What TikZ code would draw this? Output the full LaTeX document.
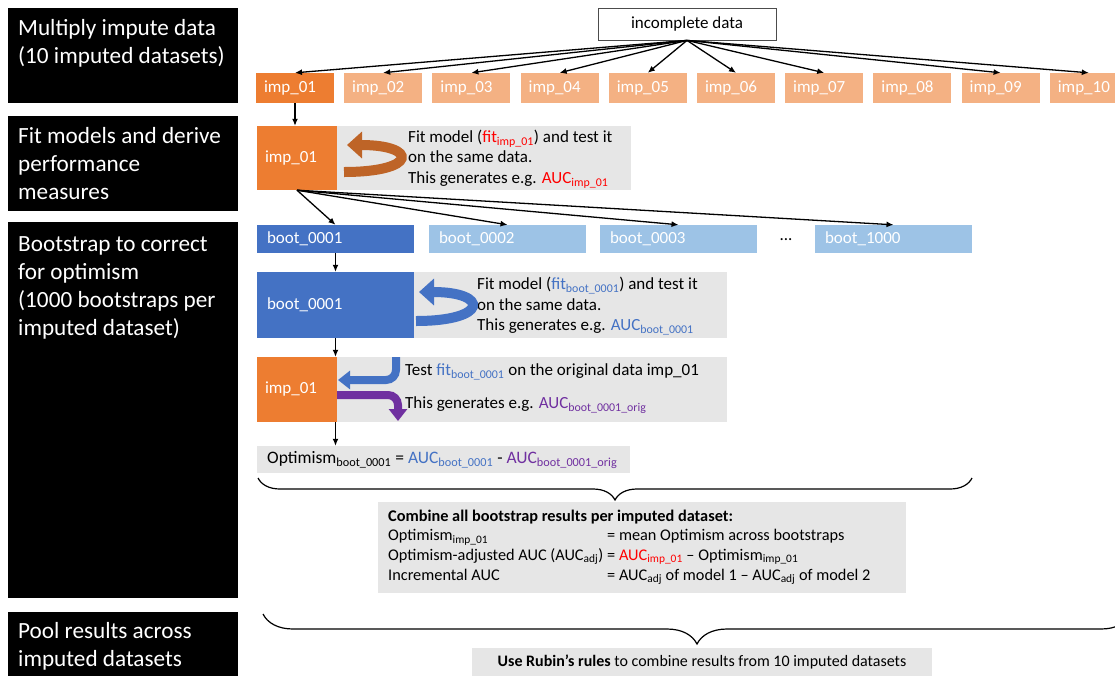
\documentclass[tikz,border=0pt]{standalone}
\usepackage{fontspec}
\setmainfont{Carlito}
\usetikzlibrary{positioning,arrows.meta,decorations.pathreplacing}
\definecolor{impdark}{HTML}{ED7D31}
\definecolor{implight}{HTML}{F4B183}
\definecolor{bootdark}{HTML}{4472C4}
\definecolor{bootlight}{HTML}{9DC3E6}
\definecolor{panel}{HTML}{E6E6E6}
\definecolor{fitred}{HTML}{FF0000}
\definecolor{origpurple}{HTML}{7030A0}
\newcommand\lowtxt[1]{\textsubscript{#1}}
\begin{document}
\begin{tikzpicture}[x=1pt,y=-1pt,
	lane/.style={fill=black,anchor=north west,minimum width=230pt,inner sep=0pt},
	lanetext/.style={text=white,anchor=north west,align=left,inner sep=0pt,font=\fontsize{23.2}{28}\selectfont},
	cell/.style={minimum height=30pt,text width=62pt,inner xsep=8pt,inner ysep=0pt,align=left,text=white,font=\fontsize{17}{20}\selectfont},
	impdk/.style={cell,fill=impdark},
	implt/.style={cell,fill=implight},
	bootdk/.style={cell,fill=bootdark,text width=137pt,inner xsep=10pt,minimum height=28pt},
	bootlt/.style={bootdk,fill=bootlight},
	datbox/.style={draw=black!70,line width=0.8pt,fill=white,minimum width=178pt,minimum height=32pt,font=\fontsize{17}{20}\selectfont},
	panelbox/.style={fill=panel,inner sep=0pt},
	note/.style={align=left,inner sep=0pt,anchor=west,font=\fontsize{17}{20.5}\selectfont},
	link/.style={-{Latex[length=7pt,width=6pt]},line width=1.3pt},
	bigarrow/.style={line width=10pt,-{Triangle[length=15pt,width=26pt]}},
	bentarrow/.style={line width=8pt,rounded corners=10pt,-{Triangle[length=12pt,width=18pt]}},
	brace/.style={decorate,decoration={brace,mirror,amplitude=#1},line width=1.2pt}]
\clip (0,0) rectangle (1115,675);
\fill[white] (0,0) rectangle (1115,675);

\node[lane,minimum height=95pt] (lane1) at (8,8) {};
\node[lane,minimum height=95pt] (lane2) at (8,116) {};
\node[lane,minimum height=376pt] (lane3) at (8,222) {};
\node[lane,minimum height=80pt] (lane4) at (8,612) {};
\node[lanetext] (lab1) at (18,19) {Multiply impute data\\(10 imputed datasets)};
\node[lanetext] (lab2) at (18,127) {Fit models and derive\\performance\\measures};
\node[lanetext] (lab3) at (18,236) {Bootstrap to correct\\for optimism\\(1000 bootstraps per\\imputed dataset)};
\node[lanetext] (lab4) at (18,622) {Pool results across\\imputed datasets};

\node[datbox] (inc) at (687,24) {incomplete data};
\node[impdk] (imp1) at (295,88) {imp\_01};
\foreach \n [count=\i from 2] in {02,03,04,05,06,07,08,09,10}
	\node[implt] (imp\i) at ({295+(\i-1)*88.2},88) {imp\_\n};
\foreach \i in {1,2,3,4,5,6,7,9,10}
	\draw[link] (inc.south) -- (imp\i.north);

\node[impdk,minimum height=64pt,text width=64pt] (fitimp) at (297,158) {imp\_01};
\node[panelbox,minimum width=294pt,minimum height=64pt,right=0pt of fitimp] (fitbg) {};
\node[note] (fittxt) at (408,159) {Fit model ({\color{fitred}fit\lowtxt{imp\_01}}) and test it\\on the same data.\\This generates e.g. {\color{fitred}AUC\lowtxt{imp\_01}}};
\draw[link] (imp1.south) -- (imp1.south |- fitimp.north);
\draw[bigarrow,impdark!80!black] (344,172) .. controls (418,172) and (418,145) .. (347,145);

\node[bootdk] (b1) at (335.5,239) {boot\_0001};
\node[bootlt] (b2) at (507.5,239) {boot\_0002};
\node[bootlt] (b3) at (678.5,239) {boot\_0003};
\node[font=\fontsize{17}{20}\selectfont,inner sep=0pt] (dots) at (786,240) {...};
\node[bootlt] (b4) at (893.5,239) {boot\_1000};
\foreach \i in {1,...,4}
	\draw[link] (fitimp.south) -- (b\i.north);

\node[bootdk,minimum height=66pt] (bfit) at (335.5,305) {boot\_0001};
\node[panelbox,minimum width=313pt,minimum height=66pt,right=0pt of bfit] (bootbg) {};
\node[note] (boottxt) at (477,306) {Fit model ({\color{bootdark}fit\lowtxt{boot\_0001}}) and test it\\on the same data.\\This generates e.g. {\color{bootdark}AUC\lowtxt{boot\_0001}}};
\draw[link] (b1.south) -- (bfit.north);
\draw[bigarrow,bootdark] (416,321) .. controls (489,321) and (489,292) .. (419,292);

\node[impdk,minimum height=65pt,text width=64pt] (timp) at (297,389.5) {imp\_01};
\node[panelbox,minimum width=390pt,minimum height=65pt,right=0pt of timp] (testbg) {};
\node[note] (test1) at (405,372) {Test {\color{bootdark}fit\lowtxt{boot\_0001}} on the original data imp\_01};
\node[note] (test2) at (405,405) {This generates e.g. {\color{origpurple}AUC\lowtxt{boot\_0001\_orig}}};
\draw[link] (bfit.south) -- (bfit.south |- timp.north);
\draw[bentarrow,bootdark] (396,357) |- (338,380);
\draw[bentarrow,origpurple] (337,395) -| (398,421);

\node[panelbox,minimum width=373pt,minimum height=27pt] (optbg) at (443.5,459.5) {};
\node[note,font=\fontsize{17.5}{20}\selectfont] (opttxt) at (267,460) {Optimism\lowtxt{boot\_0001} = {\color{bootdark}AUC\lowtxt{boot\_0001}} - {\color{origpurple}AUC\lowtxt{boot\_0001\_orig}}};
\draw[link] (bfit.south |- timp.south) -- (bfit.south |- optbg.north);

\coordinate (brace1l) at (258,478);
\coordinate (brace1r) at (972,478);
\draw[brace=22pt] (brace1l) -- (brace1r);

\node[panelbox,minimum width=528pt,minimum height=91pt] (combg) at (642,547.5) {};
\node[note,anchor=north west,font=\fontsize{16.3}{19.7}\selectfont] (comtxt) at (388,507) {\begin{tabular}{@{}p{219pt}@{}l@{}}
\multicolumn{2}{@{}l@{}}{\textbf{Combine all bootstrap results per imputed dataset:}}\\
Optimism\lowtxt{imp\_01} & = mean Optimism across bootstraps\\
Optimism-adjusted AUC (AUC\lowtxt{adj}) & = {\color{fitred}AUC\lowtxt{imp\_01}} -- Optimism\lowtxt{imp\_01}\\
Incremental AUC & = AUC\lowtxt{adj} of model 1 -- AUC\lowtxt{adj} of model 2
\end{tabular}};

\coordinate (brace2l) at (263,614);
\coordinate (brace2r) at (1131,614);
\draw[brace=30pt] (brace2l) -- (brace2r);

\node[panelbox,minimum width=460pt,minimum height=30pt] (rubbg) at (702,663) {};
\node[font=\fontsize{16}{18}\selectfont,inner sep=0pt] (rubtxt) at (702,662) {\textbf{Use Rubin's rules} to combine results from 10 imputed datasets};
\end{tikzpicture}
\end{document}
